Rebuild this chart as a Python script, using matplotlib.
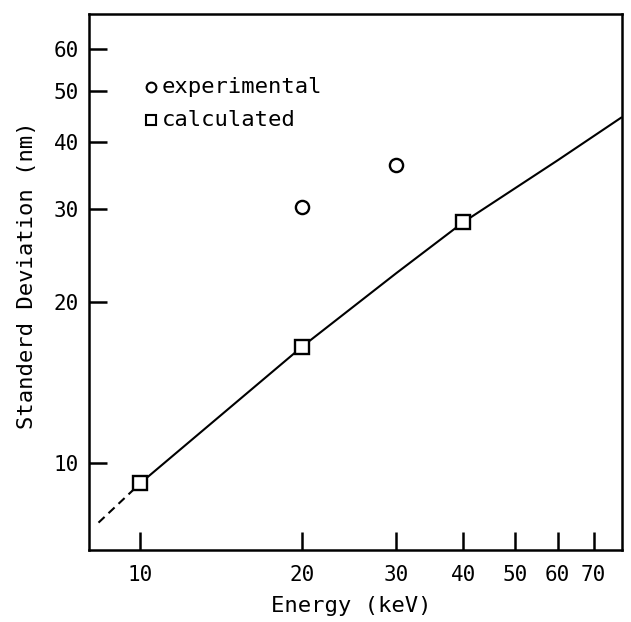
import matplotlib
matplotlib.use("Agg")
import matplotlib.pyplot as plt
from matplotlib.ticker import FixedLocator, FixedFormatter, NullLocator

plt.rcParams['font.family'] = ['DejaVu Sans Mono']

# Calculated standard deviation curve (solid) and its extrapolation below 10 keV (dashed)
curve_energy = [10, 20, 30, 40, 60, 78.8]
curve_sigma = [9.15, 16.5, 22.7, 28.3, 37.0, 44.5]
extrap_energy = [8.35, 10]
extrap_sigma = [7.71, 9.15]

# Marked points
calc_energy = [10, 20, 40]
calc_sigma = [9.15, 16.5, 28.3]
exp_energy = [20, 30]
exp_sigma = [30.2, 36.3]

x_ticks = [10, 20, 30, 40, 50, 60, 70]
x_labels = ["10", "20", "30", "40", "50", "60", "70"]
y_ticks = [10, 20, 30, 40, 50, 60]
y_labels = ["10", "20", "30", "40", "50", "60"]

fig = plt.figure(figsize=(6.31, 6.22), dpi=100)
ax = fig.add_axes([0.1403, 0.1158, 0.845, 0.8617])
ax.set_xscale('log')
ax.set_yscale('log')
ax.set_xlim(8.0, 79.0)
ax.set_ylim(6.85, 69.7)

ax.plot(curve_energy, curve_sigma, color='black', lw=1.5, zorder=2)
ax.plot(extrap_energy, extrap_sigma, color='black', lw=1.5,
        linestyle=(0, (4.0, 2.6)), zorder=2)
ax.plot(calc_energy, calc_sigma, linestyle='none', marker='s', ms=9.5,
        mfc='white', mec='black', mew=1.7, zorder=3)
ax.plot(exp_energy, exp_sigma, linestyle='none', marker='o', ms=9.5,
        mfc='white', mec='black', mew=1.7, zorder=3)

# Key
ax.plot([0.117], [0.864], transform=ax.transAxes, marker='o', ms=7,
        mfc='white', mec='black', mew=1.5, linestyle='none')
ax.plot([0.117], [0.802], transform=ax.transAxes, marker='s', ms=7,
        mfc='white', mec='black', mew=1.5, linestyle='none')
ax.text(0.137, 0.864, "experimental", transform=ax.transAxes,
        fontsize=16, va='center', ha='left')
ax.text(0.137, 0.802, "calculated", transform=ax.transAxes,
        fontsize=16, va='center', ha='left')

ax.xaxis.set_major_locator(FixedLocator(x_ticks))
ax.xaxis.set_major_formatter(FixedFormatter(x_labels))
ax.xaxis.set_minor_locator(NullLocator())
ax.yaxis.set_major_locator(FixedLocator(y_ticks))
ax.yaxis.set_major_formatter(FixedFormatter(y_labels))
ax.yaxis.set_minor_locator(NullLocator())

ax.tick_params(axis='both', which='major', direction='in', length=13,
               width=1.8, labelsize=15, top=False, right=False)
ax.tick_params(axis='x', pad=11)
ax.tick_params(axis='y', pad=7)

for s in ax.spines.values():
    s.set_linewidth(1.8)

ax.set_xlabel("Energy (keV)", fontsize=16)
ax.set_ylabel("Standerd Deviation (nm)", fontsize=16)
ax.xaxis.set_label_coords(0.492, -0.086)
ax.yaxis.set_label_coords(-0.097, 0.513)

fig.savefig("out.png", dpi=100)
